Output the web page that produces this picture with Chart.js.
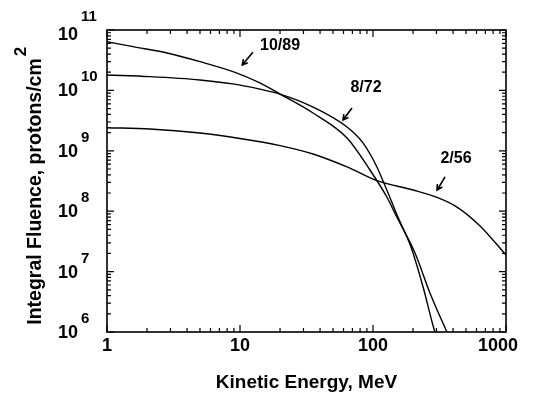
<!DOCTYPE html>
<html>
<head>
<meta charset="utf-8">
<script src="https://cdn.jsdelivr.net/npm/chart.js@4/dist/chart.umd.min.js"></script>
<style>
  html, body { margin: 0; padding: 0; background: #fff; }
  #wrap { width: 541px; height: 396px; }
</style>
</head>
<body>
<div id="wrap"><canvas id="c" width="541" height="396"></canvas></div>
<script>
// ---- data ----
const energy1089 = [1, 1.57, 2.83, 5, 8.86, 14.1, 20, 35.4, 63.8, 94.9, 127, 151, 207, 268, 360, 393];
const fluence1089 = [6.4e10, 5.3e10, 4.16e10, 2.99e10, 2.04e10, 1.33e10, 8.7e9, 4.23e9, 1.63e9, 4.81e8, 1.72e8, 8.0e7, 2.03e7, 4.43e6, 1.0e6, 6.6e5];

const energy872 = [1, 2.1, 5, 8.86, 14.1, 20, 35.4, 63.8, 84.1, 107, 127, 154, 193, 238, 292, 319];
const fluence872 = [1.8e10, 1.69e10, 1.49e10, 1.28e10, 1.05e10, 8.7e9, 5.31e9, 2.48e9, 1.35e9, 5.4e8, 2.24e8, 8.0e7, 2.55e7, 5.56e6, 1.0e6, 6.1e5];

const energy256 = [1, 2.1, 5, 10, 20, 35.4, 63.8, 107, 200, 303, 428, 638, 1000];
const fluence256 = [2.41e9, 2.30e9, 1.97e9, 1.60e9, 1.22e9, 8.85e8, 5.4e8, 3.2e8, 2.24e8, 1.69e8, 1.17e8, 5.7e7, 1.88e7];

const seriesLabels = ['10/89', '8/72', '2/56'];
const xTickValues = [1, 10, 100, 1000];
const xTickLabels = ['1', '10', '100', '1000'];
const yTickExponents = [6, 7, 8, 9, 10, 11];
const xTitle = 'Kinetic Energy, MeV';
const yTitle = 'Integral Fluence, protons/cm';
const yTitleSup = '2';

// annotation anchors in data space: label position, arrow tail, arrow head
const annotLabelE = [20, 88.6, 421];
const annotLabelF = [5.6e10, 1.1e10, 7.3e8];
const arrowTailE = [12.5, 69.5, 348];
const arrowTailF = [4.3e10, 5.1e9, 3.68e8];
const arrowHeadE = [10.4, 59.5, 303];
const arrowHeadF = [2.63e10, 3.24e9, 2.24e8];

function pts(xs, ys) { return xs.map((x, i) => ({ x: x, y: ys[i] })); }

const FONT = '"Liberation Sans", Arial, Helvetica, sans-serif';

const decor = {
  id: 'decor',
  afterDatasetsDraw(chart) {
    const ctx = chart.ctx;
    const xs = chart.scales.x, ys = chart.scales.y;
    const a = chart.chartArea;
    ctx.save();
    ctx.strokeStyle = '#000';
    ctx.fillStyle = '#000';
    // frame
    ctx.lineWidth = 1.6;
    ctx.strokeRect(a.left, a.top, a.right - a.left, a.bottom - a.top);
    // inward ticks
    ctx.lineWidth = 1.2;
    const maj = 7, min = 4;
    ctx.beginPath();
    for (let d = 0; d < 3; d++) {
      for (let m = 1; m <= 10; m++) {
        const v = Math.pow(10, d) * m;
        const px = xs.getPixelForValue(v);
        const len = (m === 1 || m === 10) ? maj : min;
        ctx.moveTo(px, a.bottom); ctx.lineTo(px, a.bottom - len);
        ctx.moveTo(px, a.top); ctx.lineTo(px, a.top + len);
      }
    }
    for (let e = 6; e < 11; e++) {
      for (let m = 1; m <= 10; m++) {
        const v = Math.pow(10, e) * m;
        const py = ys.getPixelForValue(v);
        const len = (m === 1 || m === 10) ? maj : min;
        ctx.moveTo(a.left, py); ctx.lineTo(a.left + len, py);
        ctx.moveTo(a.right, py); ctx.lineTo(a.right - len, py);
      }
    }
    ctx.stroke();

    // x tick labels
    ctx.font = 'bold 18px ' + FONT;
    ctx.textBaseline = 'alphabetic';
    ctx.textAlign = 'center';
    xTickValues.forEach((v, i) => {
      let px = xs.getPixelForValue(v);
      if (i === xTickValues.length - 1) px -= 8;
      ctx.fillText(xTickLabels[i], px, a.bottom + 19);
    });
    // y tick labels: 10 with superscript exponent
    yTickExponents.forEach((e) => {
      const py = ys.getPixelForValue(Math.pow(10, e));
      const base = Math.max(py + 6, a.top + 10);
      const sup = Math.max(py - 9, a.top - 10);
      ctx.font = 'bold 18px ' + FONT;
      ctx.textAlign = 'right';
      ctx.fillText('10', 78, base);
      ctx.font = 'bold 15px ' + FONT;
      ctx.textAlign = 'left';
      ctx.fillText(String(e), 81, sup);
    });

    // x title
    ctx.font = 'bold 19px ' + FONT;
    ctx.textAlign = 'center';
    ctx.fillText(xTitle, (a.left + a.right) / 2, 388);

    // y title, rotated, with superscript
    ctx.save();
    ctx.font = 'bold 19.5px ' + FONT;
    const w = ctx.measureText(yTitle).width;
    ctx.translate(41, 191.5);
    ctx.rotate(-Math.PI / 2);
    ctx.textAlign = 'center';
    ctx.fillText(yTitle, 0, 0);
    ctx.font = 'bold 17px ' + FONT;
    ctx.textAlign = 'left';
    ctx.fillText(yTitleSup, w / 2 + 2, -15);
    ctx.restore();

    // annotations
    ctx.font = 'bold 16px ' + FONT;
    ctx.textAlign = 'center';
    ctx.textBaseline = 'middle';
    ctx.lineWidth = 1.6;
    seriesLabels.forEach((lab, i) => {
      const lx = xs.getPixelForValue(annotLabelE[i]);
      const ly = ys.getPixelForValue(annotLabelF[i]);
      ctx.fillText(lab, lx, ly);
      const tx = xs.getPixelForValue(arrowTailE[i]);
      const ty = ys.getPixelForValue(arrowTailF[i]);
      const hx = xs.getPixelForValue(arrowHeadE[i]);
      const hy = ys.getPixelForValue(arrowHeadF[i]);
      ctx.beginPath();
      ctx.moveTo(tx, ty); ctx.lineTo(hx, hy);
      const ang = Math.atan2(hy - ty, hx - tx);
      const hl = 6, spread = 0.5;
      ctx.moveTo(hx - hl * Math.cos(ang - spread), hy - hl * Math.sin(ang - spread));
      ctx.lineTo(hx, hy);
      ctx.lineTo(hx - hl * Math.cos(ang + spread), hy - hl * Math.sin(ang + spread));
      ctx.stroke();
    });
    ctx.restore();
  }
};

const lineStyle = {
  borderColor: '#000',
  backgroundColor: '#000',
  borderWidth: 1.4,
  pointRadius: 0,
  fill: false,
  cubicInterpolationMode: 'monotone'
};

new Chart(document.getElementById('c'), {
  type: 'line',
  data: {
    datasets: [
      Object.assign({ label: seriesLabels[0], data: pts(energy1089, fluence1089) }, lineStyle),
      Object.assign({ label: seriesLabels[1], data: pts(energy872, fluence872) }, lineStyle),
      Object.assign({ label: seriesLabels[2], data: pts(energy256, fluence256) }, lineStyle)
    ]
  },
  options: {
    responsive: false,
    animation: false,
    devicePixelRatio: 1,
    layout: { padding: { top: 30, right: 35, left: 0, bottom: 0 } },
    plugins: { legend: { display: false }, tooltip: { enabled: false }, title: { display: false } },
    scales: {
      x: {
        type: 'logarithmic', min: 1, max: 1000,
        grid: { display: false }, border: { display: false },
        ticks: { display: false },
        title: { display: false, text: xTitle },
        afterFit(s) { s.height = 64; }
      },
      y: {
        type: 'logarithmic', min: 1e6, max: 1e11,
        grid: { display: false }, border: { display: false },
        ticks: { display: false },
        title: { display: false, text: yTitle + '²' },
        afterFit(s) { s.width = 107; }
      }
    }
  },
  plugins: [decor]
});
</script>
</body>
</html>
